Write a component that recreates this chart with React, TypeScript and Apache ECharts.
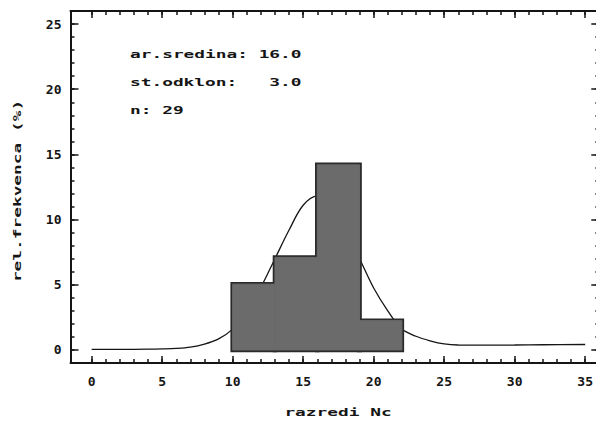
import React, { useEffect, useRef } from "react";
import * as echarts from "echarts";

// Histogram classes (relative frequency, %)
const binStarts = [10, 13, 16, 19];
const binEnds = [13, 16, 19, 22];
const relFreq = [5.05, 7.1, 14.2, 2.25];

// Fitted normal curve
const curveX = [0, 2, 4, 5, 6, 7, 8, 9, 10, 11, 12, 13, 14, 15, 16, 17, 18, 19, 20, 21, 22, 23, 24, 25, 26, 28, 30, 32, 35];
const curveY = [0.05, 0.05, 0.06, 0.08, 0.12, 0.22, 0.45, 0.85, 1.6, 2.9, 4.8, 7.0, 9.2, 11.1, 11.8, 11.1, 9.2, 7.0, 4.75, 3.0, 1.6, 1.05, 0.7, 0.46, 0.38, 0.37, 0.38, 0.4, 0.42];

// Axis ticks / labels
const xMajorTicks = [0, 5, 10, 15, 20, 25, 30, 35];
const xMinorTicks = [0, 1, 2, 3, 4, 5, 6, 7, 8, 9, 10, 11, 12, 13, 14, 15, 16, 17, 18, 19, 20, 21, 22, 23, 24, 25, 26, 27, 28, 29, 30, 31, 32, 33, 34, 35];
const yMajorTicks = [0, 5, 10, 15, 20, 25];
const yMinorTicks = [0, 1, 2, 3, 4, 5, 6, 7, 8, 9, 10, 11, 12, 13, 14, 15, 16, 17, 18, 19, 20, 21, 22, 23, 24, 25];

const statsLines = ["ar.sredina: 16.0", "st.odklon:   3.0", "n: 29"];
const xAxisName = "razredi Nc";
const yAxisName = "rel.frekvenca (%)";

const X_MIN = -1.5;
const X_MAX = 36;
const Y_MIN = -1;
const Y_MAX = 26;

const INK = "#151515";
const FONT = '"DejaVu Sans Mono", "Liberation Mono", monospace';
const GRID = { left: 70.5, right: -3.3, top: 11, bottom: 60 };

function xAxis(gridIndex: number, position: string, major: boolean, withLine: boolean, withLabel: boolean) {
  return {
    type: "value",
    gridIndex,
    position,
    min: X_MIN,
    max: X_MAX,
    splitLine: { show: false },
    axisLine: { show: withLine, onZero: false, lineStyle: { color: INK, width: 2 } },
    axisTick: {
      show: true,
      inside: true,
      length: major ? 7 : 4,
      customValues: major ? xMajorTicks : xMinorTicks,
      lineStyle: { color: INK, width: 1.5 },
    },
    axisLabel: {
      show: withLabel,
      customValues: xMajorTicks,
      margin: 12,
      color: INK,
      fontFamily: FONT,
      fontWeight: "bold",
      fontSize: 13,
    },
  };
}

function yAxis(gridIndex: number, position: string, major: boolean, withLine: boolean, withLabel: boolean) {
  return {
    type: "value",
    gridIndex,
    position,
    min: Y_MIN,
    max: Y_MAX,
    splitLine: { show: false },
    axisLine: { show: withLine, onZero: false, lineStyle: { color: INK, width: 2 } },
    axisTick: {
      show: true,
      inside: true,
      length: major ? 8 : 4,
      customValues: major ? yMajorTicks : yMinorTicks,
      lineStyle: { color: INK, width: 1.5 },
    },
    axisLabel: {
      show: withLabel,
      customValues: yMajorTicks,
      margin: 9,
      color: INK,
      fontFamily: FONT,
      fontWeight: "bold",
      fontSize: 13,
    },
  };
}

export default function App() {
  const ref = useRef<HTMLDivElement>(null);

  useEffect(() => {
    if (!ref.current) return;
    const chart = echarts.init(ref.current, null, { renderer: "svg" });

    const histData = binStarts.map((s, i) => [s, binEnds[i], relFreq[i]]);
    const curveData = curveX.map((x, i) => [x, curveY[i]]);

    const barRender = (fill: string, stroke: string, lw: number) => (_params: any, api: any) => {
      const s = api.value(0);
      const e = api.value(1);
      const v = api.value(2);
      const p0 = api.coord([s, v]);
      const p1 = api.coord([e, 0]);
      return {
        type: "rect",
        shape: { x: p0[0], y: p0[1], width: p1[0] - p0[0], height: p1[1] - p0[1] },
        style: { fill, stroke, lineWidth: lw },
      };
    };

    const textStyle = (extra: any) => ({
      fontFamily: FONT,
      fontWeight: "bold",
      fontSize: 11,
      fill: INK,
      ...extra,
    });

    const option: any = {
      animation: false,
      backgroundColor: "#ffffff",
      grid: [
        { ...GRID, outerBoundsMode: "none", containLabel: false },
        { ...GRID, outerBoundsMode: "none", containLabel: false },
      ],
      xAxis: [
        xAxis(0, "bottom", true, true, true),
        xAxis(0, "top", true, true, false),
        xAxis(1, "bottom", false, false, false),
        xAxis(1, "top", false, false, false),
      ],
      yAxis: [
        yAxis(0, "left", true, true, true),
        yAxis(0, "right", true, true, false),
        yAxis(1, "left", false, false, false),
        yAxis(1, "right", false, false, false),
      ],
      series: [
        {
          type: "line",
          xAxisIndex: 0,
          yAxisIndex: 0,
          data: curveData,
          smooth: 0.35,
          showSymbol: false,
          symbol: "none",
          lineStyle: { color: INK, width: 1.3 },
          z: 2,
        },
        {
          // outline layer
          type: "custom",
          xAxisIndex: 0,
          yAxisIndex: 0,
          data: histData,
          encode: { x: [0, 1], y: 2 },
          z: 3,
          renderItem: barRender("#2a2a2a", "#2a2a2a", 4.5),
        },
        {
          // fill layer (hides inner edges between adjacent classes)
          type: "custom",
          xAxisIndex: 0,
          yAxisIndex: 0,
          data: histData,
          encode: { x: [0, 1], y: 2 },
          z: 4,
          renderItem: barRender("#6b6b6b", "#6b6b6b", 1),
        },
      ],
      graphic: [
        ...statsLines.map((t, i) => ({
          type: "text",
          x: 130,
          y: [53.5, 81.5, 109.5][i],
          scaleX: 1.62,
          style: textStyle({ text: t, align: "left", verticalAlign: "middle" }),
        })),
        {
          type: "text",
          x: 338,
          y: 412,
          scaleX: 1.62,
          style: textStyle({ text: xAxisName, align: "center", verticalAlign: "middle" }),
        },
        {
          type: "text",
          x: 17,
          y: 191,
          rotation: Math.PI / 2,
          scaleX: 1.62,
          style: textStyle({ text: yAxisName, align: "center", verticalAlign: "middle" }),
        },
      ],
    };

    chart.setOption(option);
    return () => chart.dispose();
  }, []);

  return (
    <div
      ref={ref}
      style={{ position: "absolute", left: 0, top: 0, width: 596, height: 423, background: "#fff" }}
    />
  );
}
